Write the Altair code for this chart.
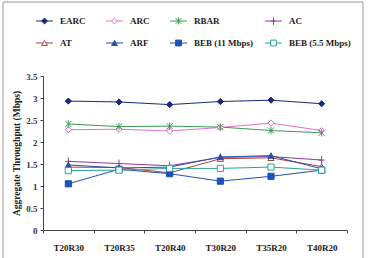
import altair as alt
import pandas as pd

# Scenario labels along the x axis
categories = ["T20R30", "T20R35", "T20R40", "T30R20", "T35R20", "T40R20"]

# Aggregate throughput (Mbps) for each scheme
earc = [2.93, 2.91, 2.85, 2.92, 2.95, 2.87]
arc = [2.28, 2.29, 2.25, 2.33, 2.43, 2.26]
rbar = [2.41, 2.35, 2.36, 2.34, 2.26, 2.21]
ac = [1.56, 1.51, 1.46, 1.65, 1.67, 1.59]
at = [1.43, 1.42, 1.30, 1.62, 1.64, 1.44]
arf = [1.48, 1.41, 1.43, 1.66, 1.69, 1.39]
beb11 = [1.05, 1.38, 1.28, 1.11, 1.22, 1.36]
beb55 = [1.35, 1.36, 1.40, 1.40, 1.43, 1.36]

series_names = ["EARC", "ARC", "RBAR", "AC", "AT", "ARF",
                "BEB (11 Mbps)", "BEB (5.5 Mbps)"]
series_values = [earc, arc, rbar, ac, at, arf, beb11, beb55]

# Styling per series
line_colors = ["#1c2878", "#e070cc", "#3c9a52", "#8c3c9c",
               "#a8403a", "#2c50a4", "#1f4fb8", "#2aa39c"]
fill_colors = ["#1c2878", "white", "transparent", "transparent",
               "white", "#2c50a4", "#1f4fb8", "white"]
asterisk = "M-1,-1L1,1M-1,1L1,-1M0,-1.2L0,1.2"
plus = "M-1,0L1,0M0,-1.3L0,1.3"
shapes = ["diamond", "diamond", asterisk, plus,
          "triangle-up", "triangle-up", "square", "square"]

rows = []
for name, vals in zip(series_names, series_values):
    for cat, v in zip(categories, vals):
        rows.append({"series": name, "scenario": cat, "throughput": v})
df = pd.DataFrame(rows)

stroke_scale = alt.Scale(domain=series_names, range=line_colors)
fill_scale = alt.Scale(domain=series_names, range=fill_colors)
shape_scale = alt.Scale(domain=series_names, range=shapes)

serif = "Liberation Serif"

x_enc = alt.X(
    "scenario:N",
    sort=categories,
    scale=alt.Scale(type="band", paddingInner=0, paddingOuter=0),
    axis=alt.Axis(
        title=None, labelAngle=0, tickBand="extent", tickSize=3,
        labelPadding=10, labelFont=serif, labelFontWeight="bold",
        labelFontSize=9, labelColor="#222", domainColor="#444",
        tickColor="#444",
    ),
)
y_enc = alt.Y(
    "throughput:Q",
    scale=alt.Scale(domain=[0, 3.5], nice=False),
    axis=alt.Axis(
        title="Aggregate Throughput (Mbps)",
        values=[0, 0.5, 1, 1.5, 2, 2.5, 3, 3.5], format="~g",
        grid=False, tickSize=3, labelPadding=3, labelFont=serif,
        labelFontSize=9, labelFontWeight="bold", labelColor="#333",
        titleFont=serif, titleFontSize=9.5, titleFontWeight="bold",
        titleColor="#222", titlePadding=4, domainColor="#444",
        tickColor="#444",
    ),
)

base = alt.Chart(df)
lines = base.mark_line(strokeWidth=1).encode(
    x=x_enc, y=y_enc,
    stroke=alt.Stroke("series:N", scale=stroke_scale, legend=None),
    detail="series:N",
)
points = base.mark_point(size=38, strokeWidth=1, opacity=1).encode(
    x=x_enc, y=y_enc,
    stroke=alt.Stroke("series:N", scale=stroke_scale, legend=None),
    fill=alt.Fill("series:N", scale=fill_scale, legend=None),
    shape=alt.Shape("series:N", scale=shape_scale, legend=None),
)
plot = alt.layer(lines, points)

# Legend block: two rows of four entries above the plot
col_offsets = [-7, 63, 127, 222]
row_offsets = [-55, -33]
seg_len = 17
leg_rows = []
for i, name in enumerate(series_names):
    lx = col_offsets[i % 4]
    ly = row_offsets[i // 4]
    leg_rows.append({"series": name, "lx": lx, "lx2": lx + seg_len,
                     "mx": lx + seg_len / 2, "tx": lx + seg_len + 7, "ly": ly})
leg = pd.DataFrame(leg_rows)
leg_base = alt.Chart(leg)
leg_lines = leg_base.mark_rule(strokeWidth=1).encode(
    x=alt.X("lx:Q", scale=None, axis=None),
    x2="lx2:Q",
    y=alt.Y("ly:Q", scale=None, axis=None),
    stroke=alt.Stroke("series:N", scale=stroke_scale, legend=None),
)
leg_points = leg_base.mark_point(size=34, strokeWidth=1, opacity=1).encode(
    x=alt.X("mx:Q", scale=None, axis=None),
    y=alt.Y("ly:Q", scale=None, axis=None),
    stroke=alt.Stroke("series:N", scale=stroke_scale, legend=None),
    fill=alt.Fill("series:N", scale=fill_scale, legend=None),
    shape=alt.Shape("series:N", scale=shape_scale, legend=None),
)
leg_text = leg_base.mark_text(
    align="left", baseline="middle", font=serif, fontWeight="bold",
    fontSize=9, color="#222",
).encode(
    x=alt.X("tx:Q", scale=None, axis=None),
    y=alt.Y("ly:Q", scale=None, axis=None),
    text="series:N",
)

# Outer frame around the whole figure
frame = alt.Chart(pd.DataFrame({"k": [0]})).mark_rect(
    fill="transparent", stroke="#9a9a9a", strokeWidth=1,
).encode(
    x=alt.value(-40), x2=alt.value(320),
    y=alt.value(-74), y2=alt.value(190),
)

chart = alt.layer(plot, leg_lines, leg_points, leg_text, frame).resolve_scale(
    x="independent", y="independent"
).properties(
    width=304, height=154,
    autosize=alt.AutoSizeParams(type="none"),
    padding={"left": 43, "top": 76, "right": 21, "bottom": 28},
    background="white",
).configure_view(stroke=None)

chart.save("out.html", embed_options={"renderer": "svg", "actions": False})
